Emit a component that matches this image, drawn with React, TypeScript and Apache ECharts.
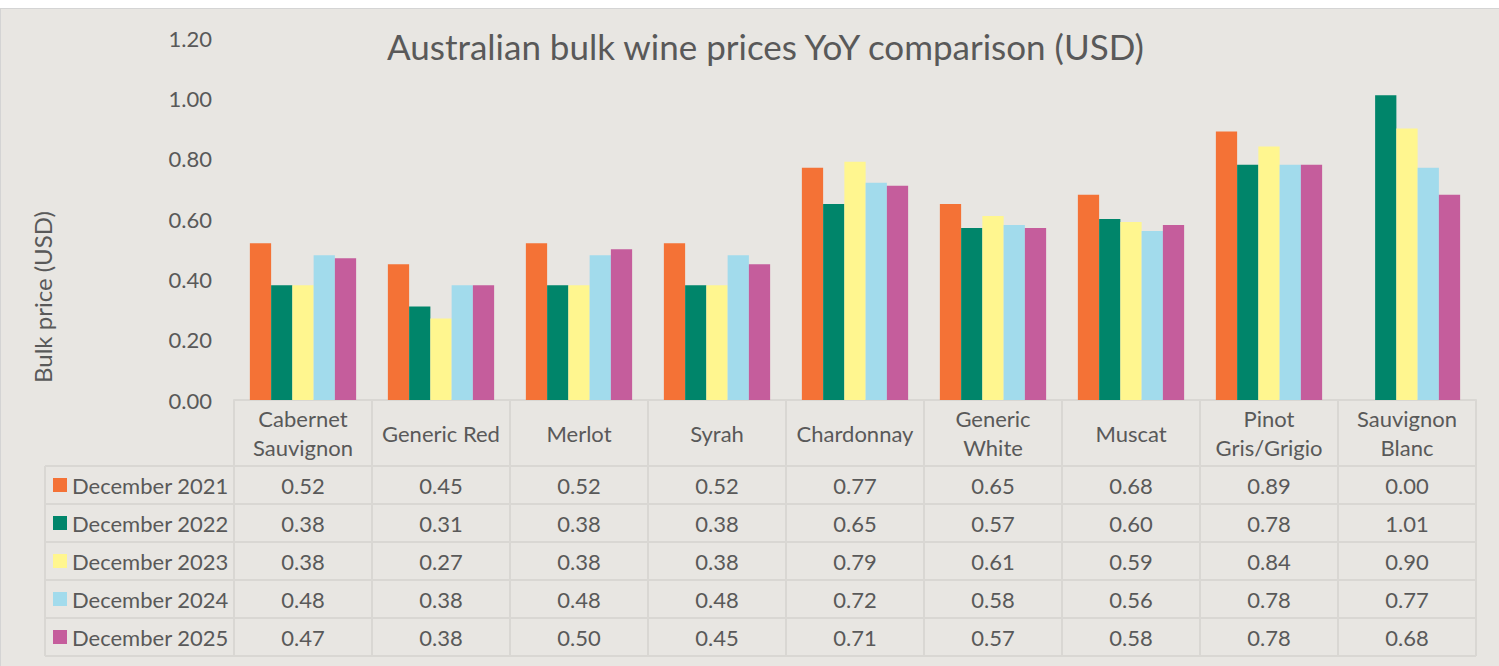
import React, { useEffect, useRef } from 'react';
import * as echarts from 'echarts';

const titleText = 'Australian bulk wine prices YoY comparison (USD)';
const yAxisTitle = 'Bulk price (USD)';
const categories = [
  'Cabernet\nSauvignon',
  'Generic Red',
  'Merlot',
  'Syrah',
  'Chardonnay',
  'Generic\nWhite',
  'Muscat',
  'Pinot\nGris/Grigio',
  'Sauvignon\nBlanc',
];
const seriesNames = ['December 2021', 'December 2022', 'December 2023', 'December 2024', 'December 2025'];
const dec2021 = [0.52, 0.45, 0.52, 0.52, 0.77, 0.65, 0.68, 0.89, 0.0];
const dec2022 = [0.38, 0.31, 0.38, 0.38, 0.65, 0.57, 0.6, 0.78, 1.01];
const dec2023 = [0.38, 0.27, 0.38, 0.38, 0.79, 0.61, 0.59, 0.84, 0.9];
const dec2024 = [0.48, 0.38, 0.48, 0.48, 0.72, 0.58, 0.56, 0.78, 0.77];
const dec2025 = [0.47, 0.38, 0.5, 0.45, 0.71, 0.57, 0.58, 0.78, 0.68];
const seriesValues = [dec2021, dec2022, dec2023, dec2024, dec2025];
const yMin = 0;
const yMax = 1.2;
const yInterval = 0.2;

const colors = ['#F47236', '#00856A', '#FFF68F', '#A2DBEC', '#C55D9C'];
const FONT = 'Lato';
const TXT = '#595959';
const BORDER = '#D9D7D3';
const BG = '#E8E6E2';
const FS = 22;

export default function App() {
  const ref = useRef<HTMLDivElement>(null);
  useEffect(() => {
    const chart = echarts.init(ref.current!, null, { renderer: 'svg' });
    const headerH = 66;
    const rowH = 38;
    const tableH = headerH + rowH * seriesNames.length;
    chart.setOption({
      animation: false,
      backgroundColor: BG,
      title: {
        text: titleText,
        left: 387,
        top: 20,
        padding: 0,
        textStyle: { fontFamily: FONT, fontSize: 35, fontWeight: 'normal', color: TXT },
      },
      legend: {
        data: seriesNames,
        orient: 'vertical',
        left: 53,
        top: 466,
        padding: 0,
        icon: 'rect',
        itemWidth: 14,
        itemHeight: 14,
        itemGap: 16,
        selectedMode: false,
        textStyle: { fontFamily: FONT, fontSize: FS, color: TXT, lineHeight: 22 },
      },
      grid: { left: 234, right: 23, top: 30, bottom: 266 },
      xAxis: {
        type: 'category',
        data: categories,
        axisLine: { show: true, lineStyle: { color: BORDER, width: 2 } },
        axisTick: { show: true, length: tableH, lineStyle: { color: BORDER, width: 2 } },
        axisLabel: {
          interval: 0,
          margin: 33,
          verticalAlign: 'middle',
          fontFamily: FONT,
          fontSize: FS,
          lineHeight: 29,
          color: TXT,
        },
      },
      yAxis: {
        type: 'value',
        min: yMin,
        max: yMax,
        interval: yInterval,
        axisLine: { show: false },
        axisTick: { show: false },
        splitLine: { show: false },
        axisLabel: {
          margin: 22,
          fontFamily: FONT,
          fontSize: FS,
          color: TXT,
          formatter: (v: number) => v.toFixed(2),
        },
      },
      series: seriesNames.map((name, i) => ({
        name,
        type: 'bar',
        data: seriesValues[i],
        barGap: '0%',
        barCategoryGap: '23%',
        itemStyle: { color: colors[i] },
      })),
    });

    const y0 = chart.convertToPixel({ yAxisIndex: 0 }, 0) as number;
    const xs = categories.map((_, i) => chart.convertToPixel({ xAxisIndex: 0 }, i) as number);
    const bw = xs[1] - xs[0];
    const gr = xs[xs.length - 1] + bw / 2;
    const graphics: any[] = [];
    graphics.push({ type: 'line', shape: { x1: 0, y1: 0.5, x2: 1499, y2: 0.5 }, style: { stroke: '#D4D4D4', lineWidth: 1 } });
    graphics.push({ type: 'line', shape: { x1: 0.5, y1: 0, x2: 0.5, y2: 658 }, style: { stroke: '#D4D4D4', lineWidth: 1 } });
    for (let r = 0; r <= seriesNames.length; r++) {
      const y = y0 + headerH + r * rowH;
      graphics.push({ type: 'line', shape: { x1: 45, y1: y, x2: gr, y2: y }, style: { stroke: BORDER, lineWidth: 2 } });
    }
    graphics.push({ type: 'line', shape: { x1: 45, y1: y0 + headerH, x2: 45, y2: y0 + tableH }, style: { stroke: BORDER, lineWidth: 2 } });
    seriesValues.forEach((vals, r) => {
      const yc = y0 + headerH + r * rowH + rowH / 2;
      vals.forEach((v, c) => {
        graphics.push({
          type: 'text',
          x: xs[c],
          y: yc,
          style: { text: v.toFixed(2), fontFamily: FONT, fontSize: FS, fill: TXT, align: 'center', verticalAlign: 'middle' },
        });
      });
    });
    graphics.push({
      type: 'text',
      x: 42,
      y: 289,
      rotation: Math.PI / 2,
      style: { text: yAxisTitle, fontFamily: FONT, fontSize: 24, fill: TXT, align: 'center', verticalAlign: 'middle' },
    });
    chart.setOption({ graphic: graphics });
    return () => chart.dispose();
  }, []);
  return (
    <div style={{ position: 'absolute', left: 0, top: 0, width: 1499, height: 666, background: '#fff' }}>
      <div ref={ref} style={{ position: 'absolute', left: 0, top: 8, width: 1499, height: 658 }} />
    </div>
  );
}
